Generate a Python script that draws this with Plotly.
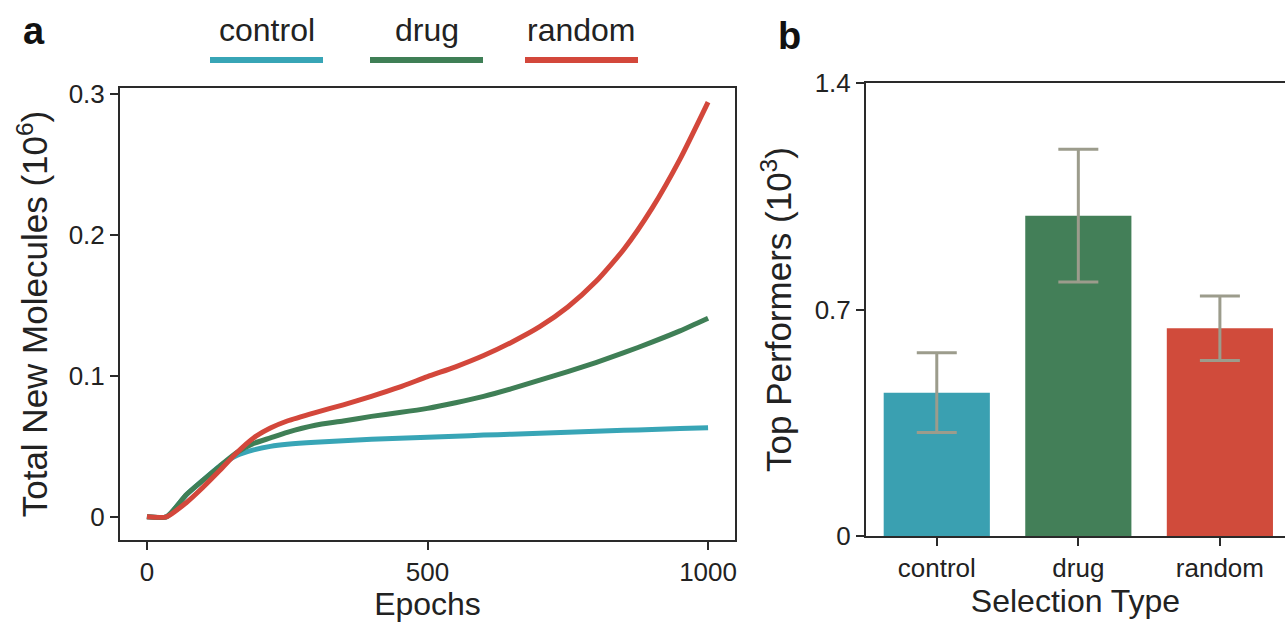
import plotly.graph_objects as go

# ---- data: panel a (cumulative new molecules, in 10^6) ----
epochs = [0, 35, 70, 100, 130, 160, 190, 220, 250, 300, 350, 400, 450, 500,
          550, 600, 650, 700, 750, 800, 850, 900, 950, 1000]
control_mol = [0, 0, 0.0155, 0.026, 0.036, 0.0435, 0.0475, 0.050, 0.0515, 0.053,
               0.054, 0.055, 0.0557, 0.0565, 0.0572, 0.058, 0.0586, 0.0593, 0.060,
               0.0607, 0.0614, 0.062, 0.0627, 0.0633]
drug_mol = [0, 0, 0.0156, 0.026, 0.036, 0.0455, 0.052, 0.056, 0.060, 0.065,
            0.068, 0.0713, 0.074, 0.077, 0.081, 0.0855, 0.091, 0.097, 0.103,
            0.1095, 0.1165, 0.124, 0.132, 0.141]
random_mol = [0, 0, 0.010, 0.021, 0.033, 0.0455, 0.056, 0.063, 0.068, 0.074,
              0.0795, 0.0855, 0.092, 0.0995, 0.1065, 0.1145, 0.124, 0.135, 0.149,
              0.167, 0.190, 0.219, 0.254, 0.2945]

# ---- data: panel b (top performers, in 10^3) ----
selection_types = ["control", "drug", "random"]
top_performers = [0.443, 0.99, 0.642]
top_err = [0.123, 0.205, 0.10]

# tick labels
a_yticks = [0, 0.1, 0.2, 0.3]
a_yticklabels = ["0", "0.1", "0.2", "0.3"]
a_xticks = [0, 500, 1000]
b_yticks = [0, 0.7, 1.4]
b_yticklabels = ["0", "0.7", "1.4"]

colors = {"control": "#38a5b6", "drug": "#3f7f56", "random": "#d3473b"}
bar_colors = ["#3aa0b1", "#437f58", "#d04b3b"]
err_color = "#9c9c8c"
axis_color = "#2a2a2a"
FONT = "Liberation Sans, Arial, sans-serif"

fig = go.Figure()

for name, vals in [("control", control_mol), ("drug", drug_mol), ("random", random_mol)]:
    fig.add_trace(go.Scatter(
        x=epochs, y=vals, mode="lines", name=name,
        line=dict(color=colors[name], width=5, shape="spline", smoothing=0.6),
        xaxis="x", yaxis="y", showlegend=False))

fig.add_trace(go.Bar(
    x=selection_types, y=top_performers, marker=dict(color=bar_colors, line=dict(width=0)),
    width=0.75,
    error_y=dict(type="data", array=top_err, visible=True, color=err_color,
                 thickness=3, width=20),
    xaxis="x2", yaxis="y2", showlegend=False))

W, H = 1285, 622
def px(x):
    return x / W
def py(y):
    return 1 - y / H

tick_font = dict(family=FONT, size=26, color="#222")
xtitle_font = dict(family=FONT, size=32, color="#222")
ytitle_font = dict(family=FONT, size=35, color="#222")

common = dict(ticks="outside", ticklen=8, tickwidth=2, tickcolor=axis_color,
              showline=True, linecolor=axis_color, linewidth=2,
              showgrid=False, zeroline=False, tickfont=tick_font, automargin=False)

fig.update_layout(
    width=W, height=H,
    margin=dict(l=0, r=0, t=0, b=0, autoexpand=False),
    paper_bgcolor="white", plot_bgcolor="white",
    font=dict(family=FONT, color="#222"),
    xaxis=dict(domain=[px(120), px(735)], range=[-48, 1048],
               tickvals=a_xticks, mirror=True,
               title=dict(text="Epochs", font=xtitle_font, standoff=2), **common),
    yaxis=dict(domain=[py(540), py(88)], range=[-0.0165, 0.3045],
               tickvals=a_yticks, ticktext=a_yticklabels, mirror=True,
               title=dict(text="Total New Molecules (10<sup>6</sup>)",
                          font=ytitle_font, standoff=10), **common),
    xaxis2=dict(domain=[px(866), 1.0], range=[-0.5, 2.46], anchor="y2", mirror=True,
                title=dict(text="Selection Type", font=xtitle_font, standoff=0),
                **common),
    yaxis2=dict(domain=[py(536), py(83)], range=[0, 1.4], anchor="x2",
                tickvals=b_yticks, ticktext=b_yticklabels, mirror=False,
                title=dict(text="Top Performers (10<sup>3</sup>)",
                           font=ytitle_font, standoff=12), **common),
    bargap=0.25,
)

# panel letters
fig.add_annotation(text="<b>a</b>", x=px(34), y=py(31), xref="paper", yref="paper",
                   xanchor="center", yanchor="middle", showarrow=False,
                   font=dict(family=FONT, size=38, color="#111"))
fig.add_annotation(text="<b>b</b>", x=px(789), y=py(36), xref="paper", yref="paper",
                   xanchor="center", yanchor="middle", showarrow=False,
                   font=dict(family=FONT, size=38, color="#111"))

# custom legend: label above a line sample
legend_items = [("control", 210, 323), ("drug", 370, 483), ("random", 525, 638)]
for name, x0, x1 in legend_items:
    fig.add_annotation(text=name, x=px((x0 + x1) / 2), y=py(30), xref="paper",
                       yref="paper", xanchor="center", yanchor="middle",
                       showarrow=False,
                       font=dict(family=FONT, size=32, color="#222"))
    fig.add_shape(type="line", xref="paper", yref="paper",
                  x0=px(x0), x1=px(x1), y0=py(60), y1=py(60),
                  line=dict(color=colors[name], width=6))

fig.write_html("out.html", config={"displayModeBar": False},
               post_script="document.body.style.margin='0';"
                           "document.body.style.overflow='hidden';")
